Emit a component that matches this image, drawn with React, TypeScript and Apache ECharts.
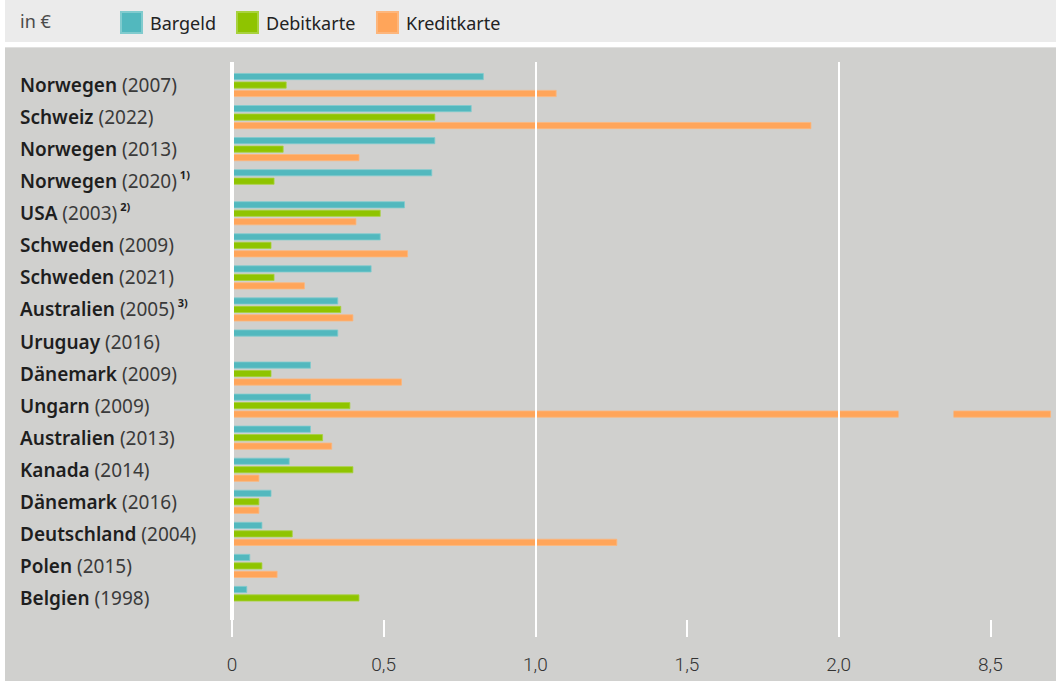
import React, { useEffect, useRef } from 'react';
import * as echarts from 'echarts';

// ---- data ----
const countries = [
  'Norwegen', 'Schweiz', 'Norwegen', 'Norwegen', 'USA', 'Schweden', 'Schweden',
  'Australien', 'Uruguay', 'Dänemark', 'Ungarn', 'Australien', 'Kanada',
  'Dänemark', 'Deutschland', 'Polen', 'Belgien',
];
const years = [
  '2007', '2022', '2013', '2020', '2003', '2009', '2021',
  '2005', '2016', '2009', '2009', '2013', '2014',
  '2016', '2004', '2015', '1998',
];
const notes = ['', '', '', '1)', '2)', '', '', '3)', '', '', '', '', '', '', '', '', ''];

const seriesNames = ['Bargeld', 'Debitkarte', 'Kreditkarte'];
const bargeld = [0.83, 0.79, 0.67, 0.66, 0.57, 0.49, 0.46, 0.35, 0.35, 0.26, 0.26, 0.26, 0.19, 0.13, 0.10, 0.06, 0.05];
const debitkarte = [0.18, 0.67, 0.17, 0.14, 0.49, 0.13, 0.14, 0.36, null, 0.13, 0.39, 0.30, 0.40, 0.09, 0.20, 0.10, 0.42];
const kreditkarte = [1.07, 1.91, 0.42, null, 0.41, 0.58, 0.24, 0.40, null, 0.56, 8.7, 0.33, 0.09, 0.09, 1.27, 0.15, null];

const xTicks = [0, 0.5, 1, 1.5, 2, 8.5];
const axisMax = 8.71;
const gridlineValues = [1, 2];
const breakStart = 2.195;
const breakEnd = 8.378;
const breakGap = 0.183;

// ---- styles ----
const BG = '#d0d0ce';
const colors = ['#52b8be', '#8fc400', '#ffa55a'];
const borders = ['#80cbce', '#a8d23e', '#fdb67c'];
const FONT = "'Noto Sans', 'Open Sans', sans-serif";
const NUM_FONT = "Roboto, 'Noto Sans', sans-serif";

export default function App() {
  const ref = useRef<HTMLDivElement>(null);

  useEffect(() => {
    if (!ref.current) return;
    const chart = echarts.init(ref.current, null, { renderer: 'svg' });
    const categories = countries.map((c, i) => `${c} (${years[i]})`);
    const breaks = [{ start: breakStart, end: breakEnd, gap: breakGap }];
    const seriesData = [bargeld, debitkarte, kreditkarte];

    const fmtTick = (v: number) => (v === 0 ? '0' : v.toFixed(1).replace('.', ','));

    const option: any = {
      animation: false,
      backgroundColor: BG,
      textStyle: { fontFamily: FONT },
      graphic: [
        { type: 'rect', silent: true, z: 0, shape: { x: 0, y: 0, width: 5, height: 681 }, style: { fill: '#ffffff' } },
        { type: 'rect', silent: true, z: 0, shape: { x: 0, y: 42, width: 1056, height: 5 }, style: { fill: '#ffffff' } },
        { type: 'rect', silent: true, z: 0, shape: { x: 5, y: 47, width: 1051, height: 1 }, style: { fill: '#e0e0df' } },
        { type: 'rect', silent: true, z: 0, shape: { x: 5, y: 0, width: 1051, height: 42 }, style: { fill: '#ebebeb' } },
        {
          type: 'text', silent: true, z: 10, x: 20, y: 21,
          style: { text: 'in €', fontSize: 18, fill: '#4a4a4a', fontFamily: FONT, verticalAlign: 'middle' },
        },
      ],
      legend: seriesNames.map((n, i) => ({
        data: [n],
        left: [120, 236, 376][i],
        top: 11,
        itemWidth: 21,
        itemHeight: 21,
        icon: 'rect',
        selectedMode: false,
        padding: 0,
        textStyle: { fontSize: 18, color: '#222', fontFamily: FONT, padding: [0, 0, 0, 3] },
      })),
      grid: [
        { left: 232, right: 2, top: 69, bottom: 67 },
        { left: 232, right: 2, top: 62, bottom: 61 },
      ],
      xAxis: [
        {
          gridIndex: 0, type: 'value', min: 0, max: axisMax, interval: 0.5,
          breaks,
          breakArea: {
            show: true, expandOnClick: false, zigzagAmplitude: 0,
            itemStyle: { color: BG, borderColor: BG, borderWidth: 0, opacity: 1 },
          },
          axisLine: { show: false }, axisTick: { show: false }, axisLabel: { show: false }, splitLine: { show: false },
        },
        {
          gridIndex: 1, type: 'value', min: 0, max: axisMax, interval: 0.5,
          breaks,
          breakArea: { show: false },
          offset: 8,
          axisLine: { show: false },
          axisTick: { show: true, customValues: xTicks, length: 17, lineStyle: { color: '#ffffff', width: 2 } },
          axisLabel: {
            customValues: xTicks, formatter: fmtTick, fontSize: 19, fontWeight: 300,
            color: '#333', fontFamily: NUM_FONT, margin: 27,
          },
          splitLine: { show: false },
        },
      ],
      yAxis: [
        {
          gridIndex: 0, type: 'category', inverse: true, data: categories,
          axisLine: { show: false }, axisTick: { show: false }, splitLine: { show: false },
          axisLabel: {
            align: 'left',
            margin: 212,
            formatter: (_v: string, i: number) =>
              `{b|${countries[i]}}{y| (${years[i]})}` + (notes[i] ? `{s|${notes[i]}}` : ''),
            rich: {
              b: { fontSize: 19, fontWeight: 600, color: '#1e1e1e', fontFamily: FONT, lineHeight: 24 },
              y: { fontSize: 19, color: '#3a3a3a', fontFamily: FONT, lineHeight: 24 },
              s: { fontSize: 11, fontWeight: 'bold', color: '#1e1e1e', fontFamily: FONT, verticalAlign: 'top', lineHeight: 12, padding: [0, 0, 0, 3] },
            },
          },
        },
        { gridIndex: 1, type: 'value', min: 0, max: 1, show: false },
      ],
      series: [
        ...seriesNames.map((n, i) => ({
          name: n,
          type: 'bar',
          xAxisIndex: 0,
          yAxisIndex: 0,
          data: seriesData[i],
          barWidth: 7,
          barGap: '21%',
          z: 2,
          itemStyle: { color: colors[i], borderColor: borders[i], borderWidth: 0.8 },
          emphasis: { disabled: true },
        })),
        {
          type: 'line', xAxisIndex: 1, yAxisIndex: 1, data: [], z: 1, silent: true,
          markLine: {
            silent: true, symbol: 'none', label: { show: false }, emphasis: { disabled: true },
            lineStyle: { color: '#ffffff', width: 2, type: 'solid' },
            data: gridlineValues.map((v) => ({ xAxis: v })),
          },
        },
        {
          type: 'line', xAxisIndex: 1, yAxisIndex: 1, data: [], z: 3, silent: true,
          markLine: {
            silent: true, symbol: 'none', label: { show: false }, emphasis: { disabled: true },
            lineStyle: { color: '#ffffff', width: 4, type: 'solid' },
            data: [{ xAxis: 0 }],
          },
        },
      ],
    };

    chart.setOption(option);
    return () => chart.dispose();
  }, []);

  return (
    <div
      ref={ref}
      style={{ position: 'fixed', left: 0, top: 0, width: 1056, height: 681, background: '#fff' }}
    />
  );
}
